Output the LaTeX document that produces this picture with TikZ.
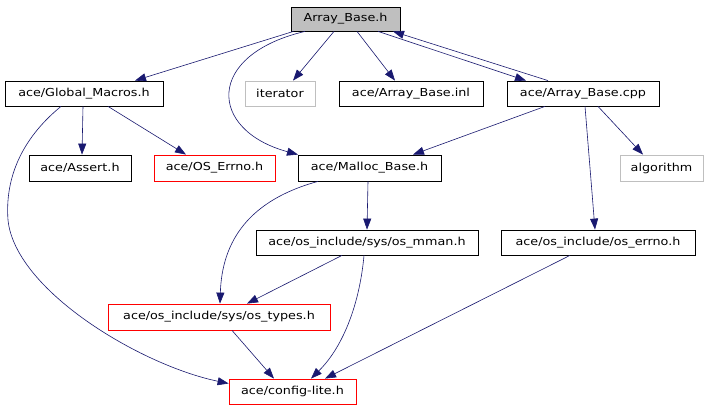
\documentclass[tikz,border=0pt]{standalone}
\usepackage{fontspec}
\newfontfamily\nodefont{DejaVu Sans}[FakeStretch=1.16]
\usetikzlibrary{arrows.meta}
\definecolor{edgeblue}{HTML}{191970}
\definecolor{boxgray}{HTML}{BFBFBF}
\begin{document}
\begin{tikzpicture}[x=1pt,y=-1pt,
  box/.style={draw=black,line width=0.8pt,rectangle,inner sep=0pt,font=\nodefont\fontsize{11}{13}\selectfont},
  redbox/.style={box,draw=red},
  graybox/.style={box,draw=boxgray},
  edge/.style={draw=edgeblue,line width=0.6pt,-{Triangle[length=11pt,width=8pt]}}]
\useasboundingbox[fill=white] (0,0) rectangle (711,411);
\node[box,fill=boxgray,minimum width=109pt,minimum height=24pt] (ab) at (345.5,19) {Array\_Base.h};
\node[box,minimum width=158pt,minimum height=25pt] (gm) at (84,93.5) {ace/Global\_Macros.h};
\node[graybox,minimum width=70pt,minimum height=25pt] (it) at (280,93.5) {iterator};
\node[box,minimum width=144pt,minimum height=25pt] (inl) at (411,93.5) {ace/Array\_Base.inl};
\node[box,minimum width=152pt,minimum height=25pt] (cpp) at (583,93.5) {ace/Array\_Base.cpp};
\node[box,minimum width=102pt,minimum height=26pt] (as) at (80,168) {ace/Assert.h};
\node[redbox,minimum width=121pt,minimum height=26pt] (ose) at (214.5,168) {ace/OS\_Errno.h};
\node[box,minimum width=143pt,minimum height=26pt] (mb) at (369.5,168) {ace/Malloc\_Base.h};
\node[graybox,minimum width=83pt,minimum height=26pt] (alg) at (661.5,168) {algorithm};
\node[box,minimum width=222pt,minimum height=25pt] (mm) at (367,242.5) {ace/os\_include/sys/os\_mman.h};
\node[box,minimum width=194pt,minimum height=25pt] (oe) at (598,242.5) {ace/os\_include/os\_errno.h};
\node[redbox,minimum width=222pt,minimum height=26pt] (ot) at (219,317) {ace/os\_include/sys/os\_types.h};
\node[redbox,minimum width=127pt,minimum height=25pt] (cl) at (292.5,391.5) {ace/config-lite.h};

\draw[edge] ([xshift=-52pt]ab.south) -- ([xshift=51pt]gm.north);
\draw[edge] ([xshift=-40.5pt]ab.south) .. controls (205,55) and (208,130) .. ([xshift=-71.5pt]mb.north);
\draw[edge] ([xshift=-11.5pt]ab.south) -- ([xshift=13pt]it.north);
\draw[edge] ([xshift=11.5pt]ab.south) -- ([xshift=-16pt]inl.north);
\draw[edge] ([xshift=32.5pt]ab.south) -- ([xshift=-57pt]cpp.north);
\draw[edge] ([xshift=-35pt]cpp.north) -- ([xshift=47.5pt]ab.south);
\draw[edge] ([xshift=-38pt]cpp.south) -- ([xshift=43.5pt]mb.north);
\draw[edge] ([xshift=15pt]cpp.south) -- ([xshift=-18.5pt]alg.north);
\draw[edge] ([xshift=2pt]cpp.south) -- ([xshift=-3pt]oe.north);
\draw[edge] ([xshift=-1pt]gm.south) -- ([xshift=2pt]as.north);
\draw[edge] ([xshift=24pt]gm.south) -- ([xshift=-28.5pt]ose.north);
\draw[edge] ([xshift=-23pt]gm.south) .. controls (20,140) and (5,180) .. (8,220) .. controls (15,290) and (140,365) .. ([yshift=8pt]cl.west);
\draw[edge] ([xshift=-51.5pt]mb.south) .. controls (250,200) and (222,240) .. ([xshift=1pt]ot.north);
\draw[edge] ([xshift=-1.5pt]mb.south) -- (mm.north);
\draw[edge] ([xshift=-25pt]mm.south) -- ([xshift=28pt]ot.north);
\draw[edge] ([xshift=-3pt]mm.south) .. controls (360,300) and (345,345) .. ([xshift=18.5pt]cl.north);
\draw[edge] ([xshift=13pt]ot.south) -- ([xshift=-18.5pt]cl.north);
\draw[edge] ([xshift=-28pt]oe.south) -- ([xshift=32.5pt]cl.north);
\end{tikzpicture}
\end{document}
